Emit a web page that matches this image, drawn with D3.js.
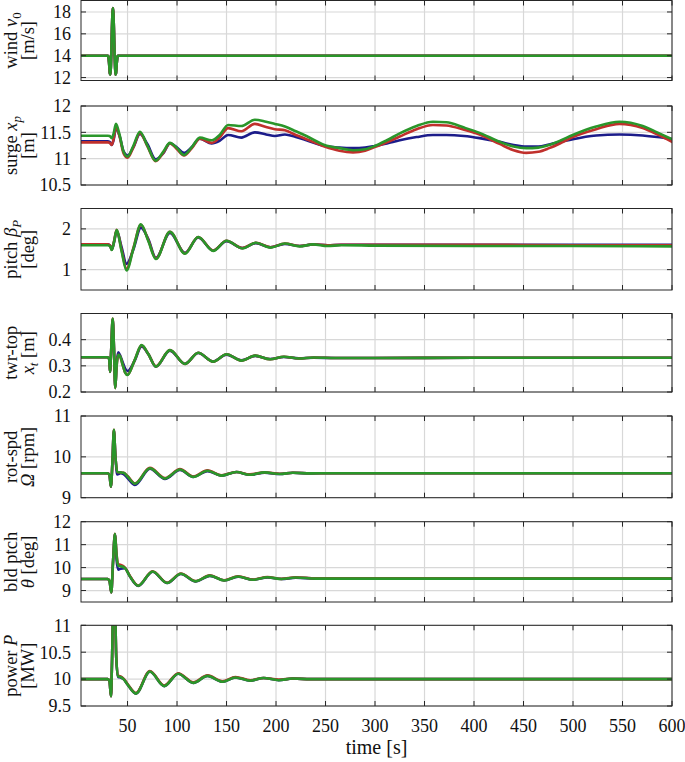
<!DOCTYPE html>
<html><head><meta charset="utf-8">
<script src="https://cdn.jsdelivr.net/npm/d3@7"></script>
<style>body{margin:0;background:#fff}svg{display:block}</style>
</head><body>
<svg id="c" width="685" height="762"></svg>
<script>
// ---------------- data ----------------
const xTickValues = [50,100,150,200,250,300,350,400,450,500,550,600];

const windTime  = [3,30,30.5,31,31.6,32.1,32.6,33.2,33.7,34.2,34.7,35.25,35.8,36.3,36.8,37.4,37.9,38.4,38.9,39.5,40,40.5,600];
const windBlue  = [14,14,13.95,13.64,13.05,12.4,12.25,13.0,14.5,16.3,17.78,18.35,17.78,16.3,14.5,13.0,12.25,12.4,13.05,13.64,13.95,14,14];
const windRed   = [14,14,13.95,13.64,13.05,12.4,12.25,13.0,14.5,16.3,17.78,18.35,17.78,16.3,14.5,13.0,12.25,12.4,13.05,13.64,13.95,14,14];
const windGreen = [14,14,13.95,13.64,13.05,12.4,12.25,13.0,14.5,16.3,17.78,18.35,17.78,16.3,14.5,13.0,12.25,12.4,13.05,13.64,13.95,14,14];
const windTicks = [12,14,16,18];

const surgeTime  = [3,30,32,34,36,38.3,42,46,50,56,62.5,70,78.4,86,92.8,100,107,115,123,135,143,151.6,165,178.6,190,198.8,209,220,230.7,249,264,277.8,290,299.7,312,325,342,358.5,372,390,405.6,425.8,440,452.7,465,476,488,499.8,523.4,546.9,570.4,585,600];
const surgeBlue  = [11.33,11.33,11.32,11.26,11.36,11.58,11.43,11.14,11.06,11.22,11.47,11.28,10.99,11.10,11.29,11.21,11.11,11.22,11.38,11.29,11.34,11.45,11.40,11.50,11.46,11.43,11.46,11.41,11.35,11.24,11.21,11.20,11.21,11.24,11.29,11.35,11.41,11.45,11.45,11.43,11.39,11.32,11.26,11.23,11.23,11.27,11.32,11.37,11.44,11.46,11.44,11.41,11.37];
const surgeRed   = [11.31,11.31,11.30,11.26,11.38,11.60,11.42,11.10,11.02,11.22,11.49,11.24,10.95,11.11,11.29,11.18,11.06,11.20,11.38,11.30,11.40,11.58,11.52,11.66,11.60,11.56,11.54,11.45,11.37,11.23,11.15,11.12,11.15,11.22,11.31,11.42,11.56,11.64,11.63,11.55,11.46,11.28,11.16,11.11,11.13,11.20,11.30,11.41,11.56,11.66,11.58,11.46,11.32];
const surgeGreen = [11.435,11.435,11.43,11.39,11.48,11.66,11.45,11.13,11.04,11.25,11.51,11.25,10.96,11.13,11.30,11.20,11.07,11.22,11.40,11.35,11.45,11.64,11.62,11.74,11.70,11.66,11.61,11.52,11.43,11.26,11.20,11.16,11.18,11.24,11.35,11.48,11.62,11.70,11.69,11.59,11.49,11.32,11.23,11.20,11.21,11.26,11.35,11.45,11.61,11.70,11.62,11.50,11.37];
const surgeTicks = [10.5,11,11.5,12];

const pitchTime  = [3,30,32.5,34,36.5,39,44,49,56,63.5,71,78.7,92.8,108,121.4,136.5,150,166,179.6,194.4,208.9,224,237.4,252,266,300,400,500,600];
const pitchBlue  = [1.62,1.62,1.59,1.49,1.68,1.95,1.55,1.14,1.50,2.03,1.75,1.29,1.90,1.41,1.79,1.47,1.70,1.53,1.65,1.55,1.63,1.58,1.62,1.60,1.61,1.61,1.61,1.61,1.61];
const pitchRed   = [1.62,1.62,1.59,1.49,1.71,1.98,1.48,1.02,1.54,2.10,1.72,1.27,1.93,1.40,1.80,1.47,1.71,1.53,1.66,1.55,1.64,1.58,1.62,1.60,1.61,1.61,1.61,1.60,1.60];
const pitchGreen = [1.60,1.60,1.57,1.48,1.70,1.97,1.45,0.98,1.52,2.11,1.70,1.26,1.93,1.39,1.80,1.46,1.71,1.52,1.66,1.54,1.64,1.57,1.62,1.58,1.60,1.59,1.58,1.58,1.57];
const pitchTicks = [1,2];

const twrTime  = [3,30,31.5,32.3,33.5,35,36.3,37.6,39,40.6,42.5,45,47.5,50,57,64.2,71,78.7,92.8,108,121.4,136.5,150,165,179,194,208,223,238,260,300,400,500,600];
const twrBlue  = [0.333,0.333,0.325,0.277,0.36,0.478,0.37,0.22,0.31,0.352,0.34,0.315,0.29,0.28,0.318,0.374,0.345,0.297,0.358,0.308,0.349,0.317,0.343,0.321,0.338,0.326,0.334,0.329,0.331,0.330,0.330,0.331,0.331,0.331];
const twrRed   = [0.333,0.333,0.325,0.277,0.36,0.481,0.37,0.215,0.30,0.342,0.336,0.305,0.275,0.266,0.32,0.378,0.345,0.298,0.360,0.307,0.350,0.316,0.344,0.320,0.339,0.325,0.335,0.328,0.332,0.330,0.330,0.331,0.331,0.331];
const twrGreen = [0.333,0.333,0.325,0.277,0.36,0.481,0.37,0.215,0.30,0.342,0.336,0.305,0.275,0.265,0.32,0.379,0.345,0.297,0.360,0.307,0.350,0.316,0.344,0.320,0.339,0.325,0.335,0.328,0.332,0.330,0.330,0.331,0.331,0.331];
const twrTicks = [0.2,0.3,0.4];

const rotTime  = [3,30,31.8,33.2,34.8,36.2,37.8,39.6,43,46,50,57.5,72.6,87.8,103,116.4,130.8,145,160,173.5,188.6,203.7,217,235,260,600];
const rotBlue  = [9.6,9.6,9.55,9.27,9.9,10.64,10.0,9.57,9.60,9.58,9.48,9.31,9.71,9.46,9.68,9.51,9.65,9.54,9.63,9.56,9.61,9.58,9.61,9.595,9.6,9.6];
const rotRed   = [9.6,9.6,9.55,9.27,9.9,10.66,10.0,9.63,9.62,9.61,9.53,9.35,9.73,9.48,9.70,9.52,9.67,9.55,9.63,9.57,9.62,9.585,9.61,9.6,9.6,9.6];
const rotGreen = [9.6,9.6,9.55,9.27,9.9,10.66,10.0,9.63,9.62,9.61,9.52,9.34,9.72,9.47,9.69,9.51,9.66,9.54,9.63,9.56,9.62,9.58,9.61,9.595,9.6,9.6];
const rotTicks = [9,10,11];

const bldTime  = [3,30,31.8,33.6,35.3,37.3,39,40.6,43,47.4,52,60.8,75.3,90,103.9,118.7,133.2,147.6,161.7,176.9,191.4,205.5,220,240,300,600];
const bldBlue  = [9.5,9.5,9.42,8.92,10.2,11.45,10.3,9.91,9.95,9.97,9.64,9.20,9.82,9.33,9.72,9.40,9.64,9.44,9.60,9.47,9.57,9.50,9.56,9.52,9.52,9.52];
const bldRed   = [9.5,9.5,9.42,8.92,10.2,11.47,10.55,10.15,10.12,10.0,9.67,9.22,9.84,9.34,9.74,9.41,9.66,9.45,9.62,9.48,9.59,9.51,9.58,9.53,9.53,9.53];
const bldGreen = [9.5,9.5,9.42,8.92,10.2,11.47,10.5,10.08,10.06,9.98,9.65,9.21,9.83,9.33,9.73,9.40,9.65,9.44,9.61,9.47,9.58,9.50,9.57,9.52,9.52,9.52];
const bldTicks = [9,10,11,12];

const powTime  = [3,30,31.8,33.3,34.3,35.5,36.5,37.5,38.6,40.6,43,46,50,58.5,72.6,87,101.2,116.4,130.8,146,159,174,187.5,202.7,216.8,235,600];
const powBlue  = [10,10,9.96,9.68,10.3,11.35,11.5,11.3,10.4,10.04,10.03,10.0,9.9,9.73,10.14,9.87,10.10,9.93,10.06,9.95,10.03,9.97,10.02,9.98,10.01,10.0,10.0];
const powRed   = [10,10,9.96,9.68,10.3,11.35,11.5,11.3,10.4,10.06,10.05,10.01,9.91,9.74,10.15,9.88,10.11,9.94,10.07,9.96,10.04,9.98,10.02,9.99,10.01,10.0,10.0];
const powGreen = [10,10,9.96,9.68,10.3,11.35,11.5,11.3,10.4,10.05,10.04,10.0,9.9,9.73,10.14,9.87,10.10,9.93,10.06,9.95,10.03,9.97,10.02,9.98,10.01,10.0,10.0];
const powTicks = [9.5,10,10.5,11];

const seriesColors = ["#1c1c8a","#c0302c","#2a962a"];

// ---------------- layout ----------------
const xLeft = 81, xRight = 672;
const FONT = "'Liberation Serif','Times New Roman',serif";

const panels = [
  {t: windTime, s:[windBlue,windRed,windGreen], dom:[11.73,19.05], ticks: windTicks, y0:0.5, y1:80.5,
   l1:[{x:"wind "},{x:"v",i:1},{x:"0",sub:1}], l2:[{x:"[m/s]"}]},
  {t: surgeTime, s:[surgeBlue,surgeRed,surgeGreen], dom:[10.5,12], ticks: surgeTicks, y0:106, y1:185,
   l1:[{x:"surge "},{x:"x",i:1},{x:"p",i:1,sub:1}], l2:[{x:"[m]"}]},
  {t: pitchTime, s:[pitchBlue,pitchRed,pitchGreen], dom:[0.5,2.5], ticks: pitchTicks, y0:208.5, y1:290,
   l1:[{x:"pitch "},{x:"β",i:1},{x:"P",i:1,sub:1}], l2:[{x:"[deg]"}]},
  {t: twrTime, s:[twrBlue,twrRed,twrGreen], dom:[0.2,0.5], ticks: twrTicks, y0:313.5, y1:392,
   l1:[{x:"twr-top"}], l2:[{x:"x",i:1},{x:"t",i:1,sub:1},{x:" [m]"}]},
  {t: rotTime, s:[rotBlue,rotRed,rotGreen], dom:[9,11], ticks: rotTicks, y0:416, y1:497.7,
   l1:[{x:"rot-spd"}], l2:[{x:"Ω",i:1},{x:" [rpm]"}]},
  {t: bldTime, s:[bldBlue,bldRed,bldGreen], dom:[8.5,12], ticks: bldTicks, y0:521.7, y1:602,
   l1:[{x:"bld ptch"}], l2:[{x:"θ",i:1},{x:" [deg]"}]},
  {t: powTime, s:[powBlue,powRed,powGreen], dom:[9.5,11], ticks: powTicks, y0:625.3, y1:706,
   l1:[{x:"power "},{x:"P",i:1}], l2:[{x:"[MW]"}]}
];

const svg = d3.select("#c");
const x = d3.scaleLinear().domain([3,600]).range([xLeft,xRight]);

function addLabel(g, parts, bx, cy){
  const t = g.append("text")
    .attr("transform",`translate(${bx},${cy}) rotate(-90)`)
    .attr("text-anchor","middle")
    .attr("font-family",FONT).attr("font-size",18.5).attr("fill","#111");
  let shifted = false;
  parts.forEach(p=>{
    const ts = t.append("tspan").text(p.x);
    if(p.i) ts.attr("font-style","italic");
    if(p.sub){ ts.attr("font-size",13).attr("dy",4); shifted=true; }
    else if(shifted){ ts.attr("dy",-4); shifted=false; }
  });
}

panels.forEach((p,k)=>{
  const y = d3.scaleLinear().domain(p.dom).range([p.y1,p.y0]);
  const g = svg.append("g");
  const clipId = "clip"+k;
  svg.append("clipPath").attr("id",clipId).append("rect")
    .attr("x",xLeft).attr("y",p.y0).attr("width",xRight-xLeft).attr("height",p.y1-p.y0);

  // grid
  g.selectAll(".gx").data(xTickValues).enter().append("line")
    .attr("x1",d=>x(d)).attr("x2",d=>x(d)).attr("y1",p.y0).attr("y2",p.y1)
    .attr("stroke","#d8d8d8").attr("stroke-width",1.2);
  g.selectAll(".gy").data(p.ticks).enter().append("line")
    .attr("x1",xLeft).attr("x2",xRight).attr("y1",d=>y(d)).attr("y2",d=>y(d))
    .attr("stroke","#d8d8d8").attr("stroke-width",1.2);

  // series
  const line = d3.line().x((d,i)=>x(p.t[i])).y(d=>y(d)).curve(d3.curveMonotoneX);
  const lg = g.append("g").attr("clip-path",`url(#${clipId})`);
  p.s.forEach((vals,j)=>{
    lg.append("path").attr("d",line(vals)).attr("fill","none")
      .attr("stroke",seriesColors[j]).attr("stroke-width",2.6)
      .attr("stroke-linejoin","round").attr("stroke-linecap","round");
  });

  // box
  g.append("rect").attr("x",xLeft).attr("y",p.y0).attr("width",xRight-xLeft).attr("height",p.y1-p.y0)
    .attr("fill","none").attr("stroke","#262626").attr("stroke-width",1);

  // ticks (inward, all four sides)
  const tl = 5;
  xTickValues.forEach(v=>{
    g.append("line").attr("x1",x(v)).attr("x2",x(v)).attr("y1",p.y1).attr("y2",p.y1-tl).attr("stroke","#262626");
    g.append("line").attr("x1",x(v)).attr("x2",x(v)).attr("y1",p.y0).attr("y2",p.y0+tl).attr("stroke","#262626");
  });
  p.ticks.forEach(v=>{
    g.append("line").attr("x1",xLeft).attr("x2",xLeft+tl).attr("y1",y(v)).attr("y2",y(v)).attr("stroke","#262626");
    g.append("line").attr("x1",xRight).attr("x2",xRight-tl).attr("y1",y(v)).attr("y2",y(v)).attr("stroke","#262626");
    g.append("text").attr("x",71).attr("y",y(v)).attr("dy","0.35em")
      .attr("text-anchor","end").attr("font-family",FONT).attr("font-size",18).attr("fill","#111")
      .text(String(v));
  });

  const cy = (p.y0+p.y1)/2;
  addLabel(g, p.l1, 17, cy);
  addLabel(g, p.l2, 34, cy);

  if(k===panels.length-1){
    xTickValues.forEach(v=>{
      g.append("text").attr("x",x(v)).attr("y",732).attr("text-anchor","middle")
        .attr("font-family",FONT).attr("font-size",18).attr("fill","#111").text(String(v));
    });
    g.append("text").attr("x",(xLeft+xRight)/2).attr("y",754).attr("text-anchor","middle")
      .attr("font-family",FONT).attr("font-size",20).attr("fill","#111").text("time [s]");
  }
});
</script>
</body></html>
